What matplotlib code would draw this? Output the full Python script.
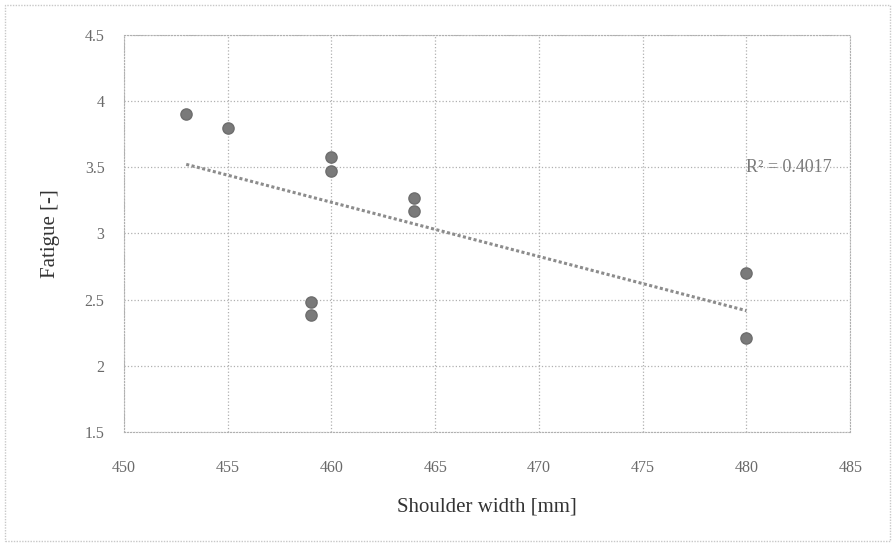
import matplotlib
matplotlib.use("Agg")
import matplotlib.pyplot as plt
import numpy as np
from matplotlib.patches import Rectangle

# 肩宽 / mm
shoulder = [453, 455, 460, 460, 464, 464, 459, 459, 480, 480]
# 疲劳
fatigue = [3.90, 3.80, 3.58, 3.47, 3.27, 3.17, 2.48, 2.38, 2.70, 2.21]
r2_label = "R² = 0.4017"

plt.rcParams['font.family'] = ['Liberation Serif', 'DejaVu Serif']

fig = plt.figure(figsize=(8.95, 5.46), dpi=100)
ax = fig.add_axes([0.1385, 0.209, 0.8115, 0.727])

# 外框
fig.patches.append(Rectangle((0.006, 0.01), 0.988, 0.98, transform=fig.transFigure,
                             fill=False, edgecolor='#c8c8c8', linewidth=1.0, linestyle=(0, (1, 1))))

ax.scatter(shoulder, fatigue, s=65, color='#7a7a7a', edgecolors='#6e6e6e', zorder=3)

# 线性趋势线
k, b = np.polyfit(shoulder, fatigue, 1)
xt = np.array([min(shoulder), max(shoulder)])
ax.plot(xt, k * xt + b, ls=(0, (1, 0.8)), color='#8c8c8c', linewidth=2.2, zorder=2)

ax.text(480, 3.5, r2_label, fontsize=13, color='#7a7a7a', va='center', ha='left')

ax.set_xlim(450, 485)
ax.set_ylim(1.5, 4.5)
ax.set_xticks(range(450, 486, 5))
ax.set_yticks([1.5, 2, 2.5, 3, 3.5, 4, 4.5])
ax.set_yticklabels(['1.5', '2', '2.5', '3', '3.5', '4', '4.5'])
ax.grid(True, ls=':', color='#b0b0b0', linewidth=0.9)
ax.set_axisbelow(True)
for s in ax.spines.values():
    s.set_color('#b0b0b0')
    s.set_linestyle(':')
ax.tick_params(length=0, labelsize=11.5, colors='#6a6a6a')
ax.tick_params(axis='x', pad=20)
ax.tick_params(axis='y', pad=14)

ax.set_xlabel("Shoulder width [mm]", fontsize=15, color='#333333', labelpad=16)
ax.set_ylabel("Fatigue [-]", fontsize=15, color='#333333', labelpad=18)

fig.savefig("out.png", dpi=100)
